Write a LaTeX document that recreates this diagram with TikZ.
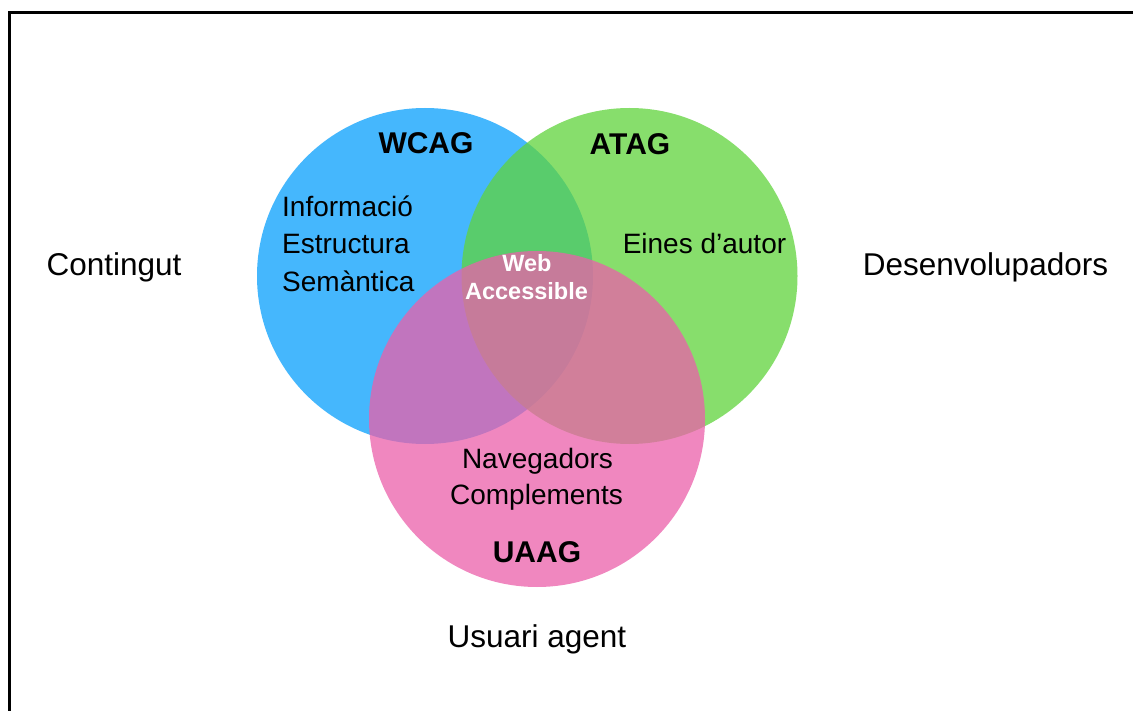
\documentclass[tikz,border=0pt]{standalone}
\usepackage{fontspec}
\setmainfont{Liberation Sans}
\definecolor{wblue}{RGB}{69,183,253}
\definecolor{wgreen}{RGB}{96,212,60}
\definecolor{wpink}{RGB}{235,96,170}
\tikzset{
  set/.style={circle, minimum size=336pt, inner sep=0pt, draw=none},
  outer/.style={inner sep=0pt, anchor=base, font=\fontsize{31.5}{37}\selectfont},
  inner/.style={inner sep=0pt, font=\fontsize{28}{37}\selectfont},
  title/.style={inner sep=0pt, anchor=base, font=\fontsize{30}{36}\selectfont\bfseries},
  center/.style={inner sep=0pt, anchor=base, text=white, font=\fontsize{23.5}{28}\selectfont\bfseries},
}
\begin{document}
\begin{tikzpicture}[x=1pt,y=-1pt]
\useasboundingbox (0,0) rectangle (1133,711);
\fill[white] (0,0) rectangle (1133,711);
\begin{scope}
\clip (0,0) rectangle (1133,711);
\draw[line width=3pt] (9.5,13) rectangle (1150,730);
\end{scope}
\node[set, fill=wblue] (wcag) at (425,276) {};
\node[set, fill=wgreen, fill opacity=0.75] (atag) at (629.5,276) {};
\node[set, fill=wpink, fill opacity=0.75] (uaag) at (537,419) {};
% outer labels
\node[outer] (contingut) at (114,276) {Contingut};
\node[outer] (desenv) at (985.5,276) {Desenvolupadors};
\node[outer] (usuari) at (537,647) {Usuari agent};
% titles
\node[title] (twcag) at (426,154) {WCAG};
\node[title] (tatag) at (630,155) {ATAG};
\node[title] (tuaag) at (537,562) {UAAG};
% inner texts
\node[inner, anchor=base west] (info) at (282,217) {Informació};
\node[inner, anchor=base west] (estr) at (282,254) {Estructura};
\node[inner, anchor=base west] (sema) at (282,292) {Semàntica};
\node[inner, anchor=base] (eines) at (704.5,254) {Eines d’autor};
\node[inner, anchor=base] (nave) at (537.5,468) {Navegadors};
\node[inner, anchor=base] (compl) at (536.5,504) {Complements};
% center
\node[center] (web) at (527,272) {Web};
\node[center] (acc) at (526.5,300) {Accessible};
\end{tikzpicture}
\end{document}
